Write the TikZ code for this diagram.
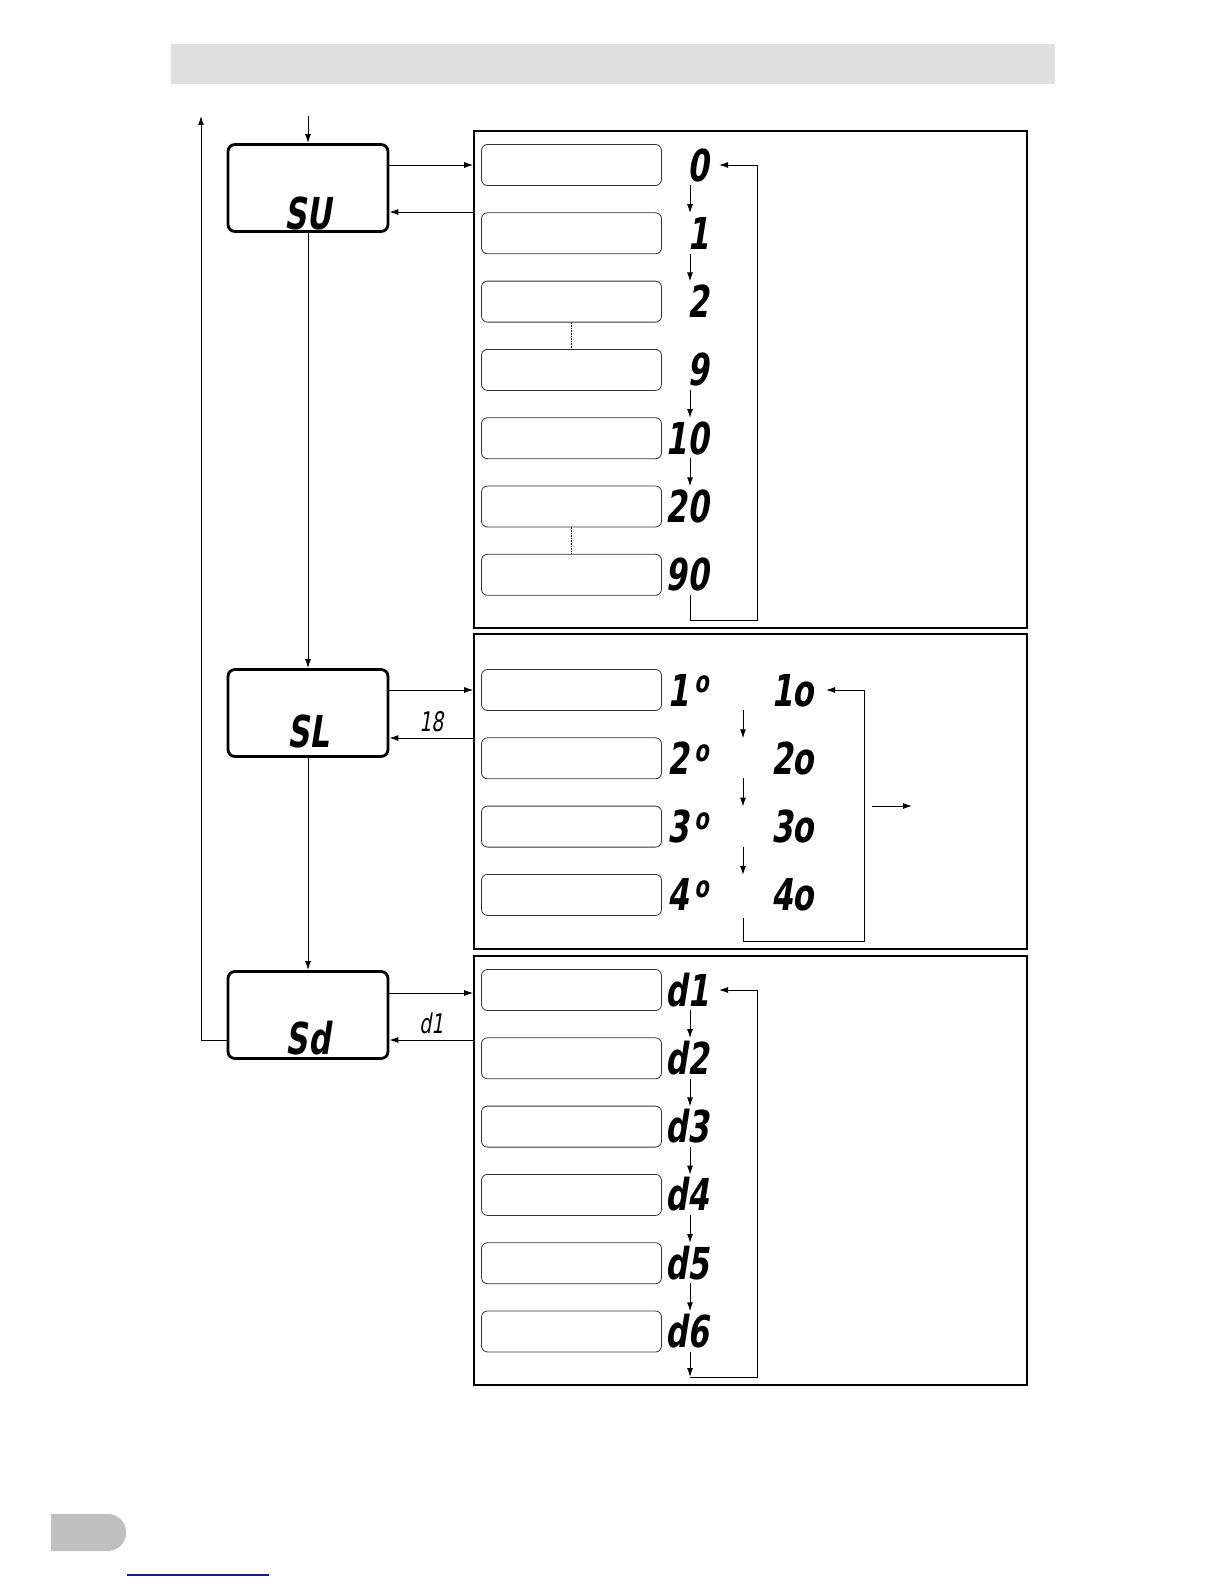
\documentclass[tikz,border=0pt]{standalone}
\usepackage{fontspec}
\usetikzlibrary{positioning,arrows.meta}
\newfontfamily\segfont[FakeStretch=0.7,FakeSlant=0.16]{DejaVu Sans}
\definecolor{bargray}{HTML}{DFDFDF}
\definecolor{tabgray}{HTML}{C0C0C0}
\definecolor{linkblue}{HTML}{1A1A8C}
\newcommand{\segup}[1]{#1\kern5pt\raisebox{0.3em}{\fontsize{30}{30}\selectfont o}}

\begin{document}
\begin{tikzpicture}[x=1pt, y=-1pt,
  menu/.style={draw, line width=2.8pt, rounded corners=7pt, minimum width=160pt, minimum height=87pt},
  panel/.style={draw, line width=1.6pt, minimum width=553pt},
  opt/.style={draw=black!80, line width=0.8pt, rounded corners=6pt, minimum width=180pt, minimum height=41pt},
  seg/.style={font=\segfont\bfseries\fontsize{44}{44}\selectfont, inner sep=0pt, text height=32pt, text depth=0pt},
  val/.style={seg, anchor=east},
  small/.style={font=\segfont\fontsize{27}{27}\selectfont, inner sep=0pt},
  arr/.style={-{Latex[length=9pt,width=6pt]}, line width=1pt},
  dots/.style={densely dotted, line width=1.6pt}
]
\useasboundingbox (0,0) rectangle (1224,1584);

% page decoration
\fill[bargray] (171,44) rectangle (1055,84);
\fill[tabgray] (51,1514) -- (100,1514) [rounded corners=18pt] -- (126,1514) -- (126,1551) -- (100,1551) [sharp corners] -- (51,1551) -- cycle;
\draw[linkblue, line width=1.5pt] (127,1575) -- (269,1575);

% menu boxes
\node[menu] (su) at (308,188) {};
\node[menu] (sl) at (308,713) {};
\node[menu] (sd) at (308,1015) {};
\node[seg] (sutxt) at (308,213) {SU};
\node[seg] (sltxt) at (308,731) {SL};
\node[seg] (sdtxt) at (308,1038) {Sd};

% panels
\node[panel, minimum height=497pt] (pan1) at (750.5,379.5) {};
\node[panel, minimum height=315pt] (pan2) at (750.5,791.5) {};
\node[panel, minimum height=429pt] (pan3) at (750.5,1170.5) {};

% columns
\coordinate (vx) at (709,0);
\coordinate (wx) at (814,0);
\coordinate (ax) at (690,0);
\coordinate (bx) at (743,0);

% panel 1
\node[opt] (a0) at (571.5,165) {};
\node[opt, below=26.5pt of a0] (a1) {};
\node[opt, below=26.5pt of a1] (a2) {};
\node[opt, below=26.5pt of a2] (a3) {};
\node[opt, below=26.5pt of a3] (a4) {};
\node[opt, below=26.5pt of a4] (a5) {};
\node[opt, below=26.5pt of a5] (a6) {};
\draw[dots] (a2.south) -- (a3.north);
\draw[dots] (a5.south) -- (a6.north);
\node[val] (v0) at (a0 -| vx) {0};
\node[val] (v1) at (a1 -| vx) {1};
\node[val] (v2) at (a2 -| vx) {2};
\node[val] (v3) at (a3 -| vx) {9};
\node[val] (v4) at (a4 -| vx) {10};
\node[val] (v5) at (a5 -| vx) {20};
\node[val] (v6) at (a6 -| vx) {90};
\draw[arr, shorten <=4pt, shorten >=4pt] (v0.south -| ax) -- (v1.north -| ax);
\draw[arr, shorten <=4pt, shorten >=4pt] (v1.south -| ax) -- (v2.north -| ax);
\draw[arr, shorten <=4pt, shorten >=4pt] (v3.south -| ax) -- (v4.north -| ax);
\draw[arr, shorten <=4pt, shorten >=4pt] (v4.south -| ax) -- (v5.north -| ax);
\coordinate (loop1) at (757,620);
\draw[arr, shorten <=4pt] (v6.south -| ax) |- (loop1) |- ([xshift=10pt]v0.east);

% panel 2
\node[opt] (b1) at (571.5,690) {};
\node[opt, below=26.5pt of b1] (b2) {};
\node[opt, below=26.5pt of b2] (b3) {};
\node[opt, below=26.5pt of b3] (b4) {};
\node[val] (p1) at (b1 -| vx) {\segup{1}};
\node[val] (p2) at (b2 -| vx) {\segup{2}};
\node[val] (p3) at (b3 -| vx) {\segup{3}};
\node[val] (p4) at (b4 -| vx) {\segup{4}};
\node[val] (q1) at (b1 -| wx) {1o};
\node[val] (q2) at (b2 -| wx) {2o};
\node[val] (q3) at (b3 -| wx) {3o};
\node[val] (q4) at (b4 -| wx) {4o};
\draw[arr, shorten <=20pt, shorten >=20pt] (b1 -| bx) -- (b2 -| bx);
\draw[arr, shorten <=20pt, shorten >=20pt] (b2 -| bx) -- (b3 -| bx);
\draw[arr, shorten <=20pt, shorten >=20pt] (b3 -| bx) -- (b4 -| bx);
\coordinate (loop2) at (864,941);
\draw[arr, shorten <=23pt] (b4 -| bx) |- (loop2) |- ([xshift=12pt]q1.east);
\coordinate (exit) at (912,806);
\draw[arr, shorten <=8pt] (exit -| loop2) -- (exit);

% panel 3
\node[opt] (c1) at (571.5,990) {};
\node[opt, below=26.5pt of c1] (c2) {};
\node[opt, below=26.5pt of c2] (c3) {};
\node[opt, below=26.5pt of c3] (c4) {};
\node[opt, below=26.5pt of c4] (c5) {};
\node[opt, below=26.5pt of c5] (c6) {};
\node[val] (r1) at (c1 -| vx) {d1};
\node[val] (r2) at (c2 -| vx) {d2};
\node[val] (r3) at (c3 -| vx) {d3};
\node[val] (r4) at (c4 -| vx) {d4};
\node[val] (r5) at (c5 -| vx) {d5};
\node[val] (r6) at (c6 -| vx) {d6};
\draw[arr, shorten <=4pt, shorten >=4pt] (r1.south -| ax) -- (r2.north -| ax);
\draw[arr, shorten <=4pt, shorten >=4pt] (r2.south -| ax) -- (r3.north -| ax);
\draw[arr, shorten <=4pt, shorten >=4pt] (r3.south -| ax) -- (r4.north -| ax);
\draw[arr, shorten <=4pt, shorten >=4pt] (r4.south -| ax) -- (r5.north -| ax);
\draw[arr, shorten <=4pt, shorten >=4pt] (r5.south -| ax) -- (r6.north -| ax);
\coordinate (loop3) at (757,1377);
\draw[arr, shorten <=4pt] (r6.south -| ax) -- (loop3 -| ax);
\draw[arr] (loop3 -| ax) -- (loop3) |- ([xshift=10pt]r1.east);

% menu flow
\coordinate (entry) at (308,116);
\coordinate (top) at (201,116);
\draw[arr] (entry) -- (su.north);
\draw[arr] (su.south) -- (sl.north);
\draw[arr] (sl.south) -- (sd.north);
\coordinate (sd-ret) at ([yshift=-25pt]sd.west);
\draw[arr] (sd-ret) -| (top);

\coordinate (su-out) at ([yshift=23pt]su.east);
\coordinate (su-in) at ([yshift=-24pt]su.east);
\draw[arr] (su-out) -- (su-out -| pan1.west);
\draw[arr] (su-in -| pan1.west) -- (su-in);
\coordinate (sl-out) at ([yshift=23pt]sl.east);
\coordinate (sl-in) at ([yshift=-25pt]sl.east);
\draw[arr] (sl-out) -- (sl-out -| pan2.west);
\draw[arr] (sl-in -| pan2.west) -- node[small, above=6pt] (lbl18) {18} (sl-in);
\coordinate (sd-out) at ([yshift=22pt]sd.east);
\coordinate (sd-in) at ([yshift=-25pt]sd.east);
\draw[arr] (sd-out) -- (sd-out -| pan3.west);
\draw[arr] (sd-in -| pan3.west) -- node[small, above=6pt] (lbld1) {d1} (sd-in);
\end{tikzpicture}
\end{document}
